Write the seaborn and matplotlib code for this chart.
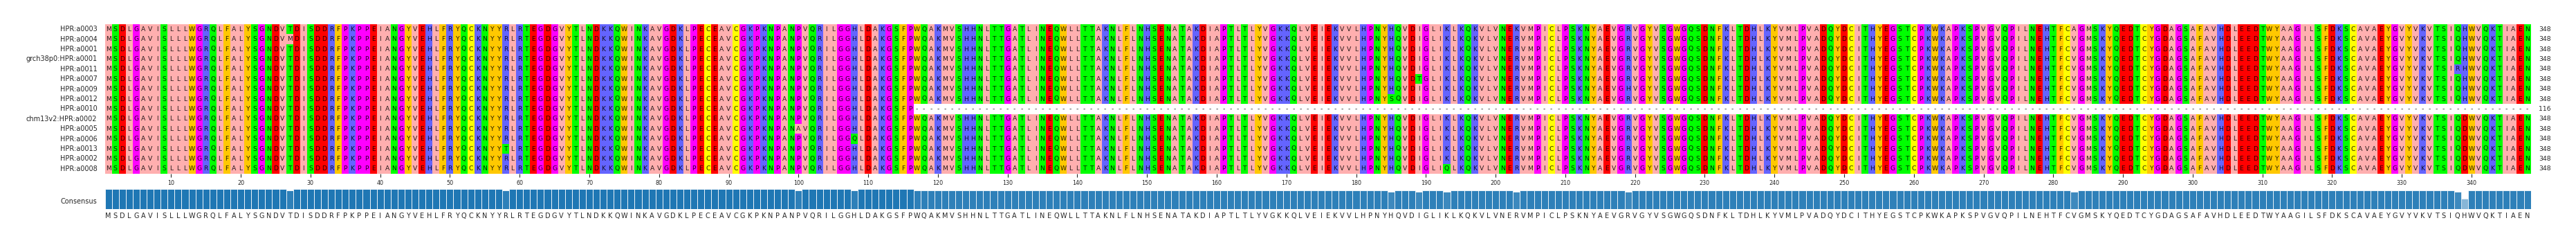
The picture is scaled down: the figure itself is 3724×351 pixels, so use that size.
import numpy as np
import pandas as pd
import matplotlib
matplotlib.use('Agg')
import matplotlib.pyplot as plt
from matplotlib.colors import ListedColormap
import seaborn as sns

sample_names = ['HPR:a0003', 'HPR:a0004', 'HPR:a0001', 'grch38p0:HPR:a0001', 'HPR:a0011',
                'HPR:a0007', 'HPR:a0009', 'HPR:a0012', 'HPR:a0010', 'chm13v2:HPR:a0002',
                'HPR:a0005', 'HPR:a0006', 'HPR:a0013', 'HPR:a0002', 'HPR:a0008']
seq_lengths = [348, 348, 348, 348, 348, 348, 348, 348, 116, 348, 348, 348, 348, 348, 348]

consensus = ('MSDLGAVISLLLWGRQLFALYSGNDVTDISDDRFPKPPEIANGYVEHLFRYQCKNYYRLRTEGDGVYT'
             'LNDKKQWINKAVGDKLPECEAVCGKPKNPANPVQRILGGHLDAKGSFPWQAKMVSHHNLTTGATLINE'
             'QWLLTTAKNLFLNHSENATAKDIAPTLTLYVGKKQLVEIEKVVLHPNYHQVDIGLIKLKQKVLVNERV'
             'MPICLPSKNYAEVGRVGYVSGWGQSDNFKLTDHLKYVMLPVADQYDCITHYEGSTCPKWKAPKSPVGV'
             'QPILNEHTFCVGMSKYQEDTCYGDAGSAFAVHDLEEDTWYAAGILSFDKSCAVAEYGVYVKVTSIQH'
             'WVQKTIAEN')

# where a row differs from the consensus: row, position (1 based), residue
var_rows = [0, 0, 1, 4, 5, 6, 7, 10, 11, 12, 14, 9, 10, 11, 12, 13, 14]
var_pos = [203, 283, 27, 338, 189, 219, 185, 100, 108, 58, 193, 339, 339, 339, 339, 339, 339]
var_res = ['K', 'A', 'M', 'R', 'T', 'H', 'S', 'A', 'Q', 'T', 'Q', 'D', 'D', 'D', 'D', 'D', 'D']

tick_pos = list(range(10, 341, 10))

residue_colors = {'A': '#FFAFAF', 'I': '#FFAFAF', 'L': '#FFAFAF', 'M': '#FFAFAF', 'V': '#FFAFAF',
                  'F': '#FFC800', 'W': '#FFC800', 'Y': '#FFC800',
                  'D': '#FF0000', 'E': '#FF0000',
                  'K': '#6464FF', 'R': '#6464FF', 'H': '#6464FF',
                  'N': '#00FF00', 'Q': '#00FF00', 'S': '#00FF00', 'T': '#00FF00',
                  'G': '#FF00FF', 'P': '#FF00FF',
                  'C': '#FFFF00',
                  '-': '#FFFFFF'}

W, H = 3724, 351
LEFT, RIGHT = 151.6, 3658.6
TXT = 6.7

# build the alignment
seqs = []
for n in seq_lengths:
    seqs.append(list(consensus[:n]) + ['-'] * (len(consensus) - n))
for r, p, c in zip(var_rows, var_pos, var_res):
    seqs[r][p - 1] = c
letters = np.array(seqs)

residues = list(residue_colors.keys())
codes = np.vectorize(residues.index)(letters)
cmap = ListedColormap([residue_colors[r] for r in residues])

# share of sequences that carry the consensus residue
identity = (letters == np.array(list(consensus))).sum(axis=0) / len(sample_names)
df = pd.DataFrame({'pos': np.arange(1, len(consensus) + 1), 'identity': identity})

sns.set_theme(style='ticks')
plt.rcParams['font.family'] = ['DejaVu Sans']

fig = plt.figure(figsize=(W / 100, H / 100), dpi=100)
ax = fig.add_axes([LEFT / W, (H - 251) / H, (RIGHT - LEFT) / W, 216 / H])
ax2 = fig.add_axes([LEFT / W, (H - 302.3) / H, (RIGHT - LEFT) / W, 29 / H])

sns.heatmap(codes, cmap=cmap, vmin=0, vmax=len(residues) - 1, cbar=False, ax=ax,
            annot=letters, fmt='', annot_kws={'fontsize': TXT, 'color': 'black', 'alpha': 0.85})
ax.set_xticks([p - 0.5 for p in tick_pos])
ax.set_xticklabels(tick_pos, rotation=0, fontsize=5.8)
ax.set_yticks(np.arange(len(sample_names)) + 0.5)
ax.set_yticklabels(sample_names, rotation=0, fontsize=TXT + 0.3)
ax.tick_params(axis='y', length=0, pad=8)
ax.tick_params(axis='x', length=3.3, width=0.8, pad=3.2)

# sequence lengths at the right
for i, n in enumerate(seq_lengths):
    ax.text(len(consensus) + 1.15, i + 0.5, str(n), va='center', ha='left',
            fontsize=TXT, color='.15')

sns.barplot(data=df, x='pos', y='identity', color='#1f77b4', saturation=1, width=1,
            edgecolor='white', linewidth=0.6, ax=ax2)
for bar, val in zip(ax2.patches, identity):
    bar.set_alpha(val)
ax2.set_xlim(-0.5, len(consensus) - 0.5)
ax2.set_ylim(0, 1)
ax2.set_xlabel('')
ax2.set_ylabel('')
ax2.set_xticks(np.arange(len(consensus)))
ax2.set_xticklabels(list(consensus), fontsize=TXT + 0.3, color='.15')
ax2.set_yticks([0.41])
ax2.set_yticklabels(['Consensus'], fontsize=TXT + 0.3)
ax2.tick_params(axis='both', length=0)
ax2.tick_params(axis='x', pad=3.5)
ax2.tick_params(axis='y', pad=8)
sns.despine(ax=ax2, left=True, bottom=True)

fig.savefig('out.png', dpi=100)
plt.close('all')
